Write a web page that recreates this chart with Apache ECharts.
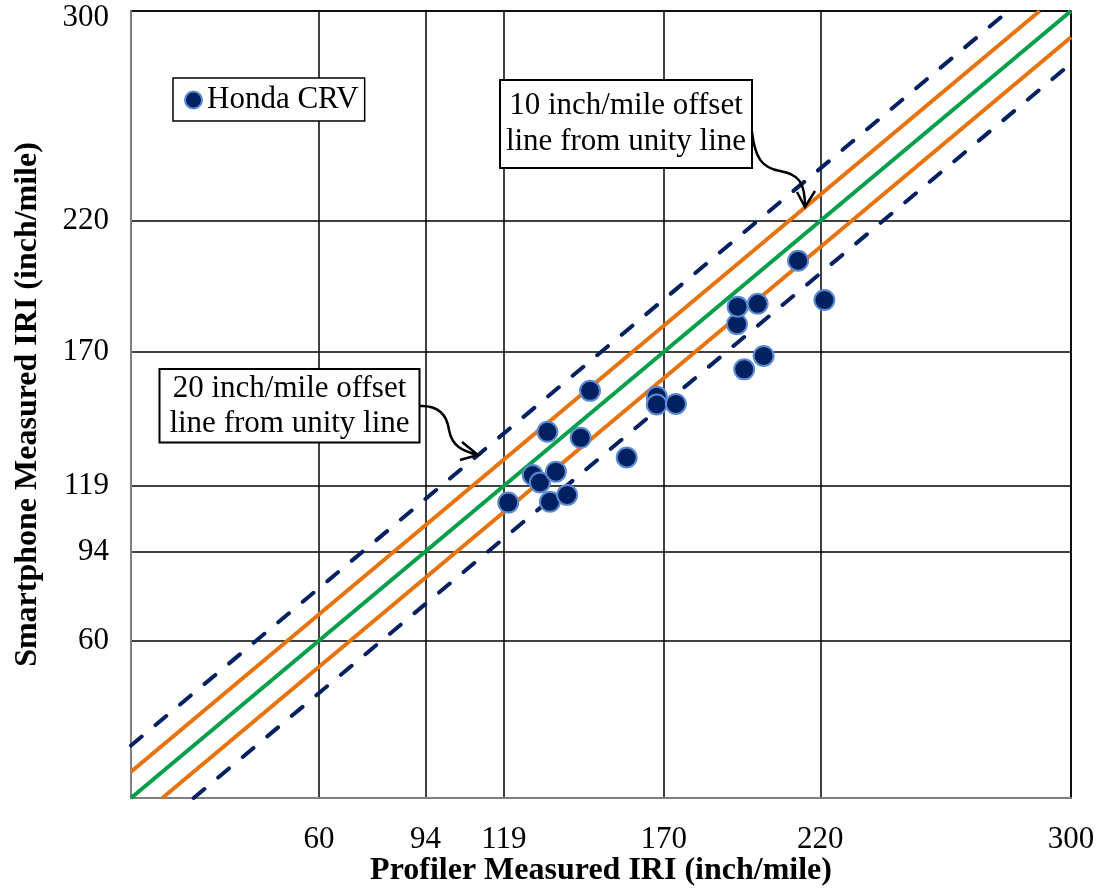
<!DOCTYPE html>
<html>
<head>
<meta charset="utf-8">
<title>Smartphone vs Profiler IRI</title>
<script src="https://cdn.jsdelivr.net/npm/echarts@6/dist/echarts.min.js"></script>
<style>
  html, body { margin: 0; padding: 0; background: #ffffff; }
  #chart { width: 1101px; height: 890px; }
</style>
</head>
<body>
<div id="chart"></div>
<script>
// Tick values shown on both axes (IRI thresholds)
const tickValues = [60, 94, 119, 170, 220, 300];

// Honda CRV runs: [profiler IRI, smartphone IRI]
const hondaCRV = [
  [120.4, 112.6], [128.2, 123.1], [130.5, 120.3], [132.9, 139.6],
  [133.7, 112.9], [135.6, 124.4], [139.2, 115.5], [143.5, 137.3],
  [146.5, 155.2], [158.2, 129.8], [167.8, 153.0], [167.8, 150.0],
  [173.9, 150.2], [193.4, 180.6], [193.6, 187.3], [195.7, 163.4],
  [200.0, 188.4], [201.9, 168.5], [212.9, 204.8], [221.3, 189.8]
];

// Reference lines (end points)
const unityLine = [[0, 0], [300, 300]];
const upper10 = [[0, 10], [290, 300]];
const lower10 = [[10, 0], [300, 290]];
const upper20 = [[0, 20], [280, 300]];
const lower20 = [[20, 0], [300, 280]];

const FONT = "'Liberation Serif', 'Times New Roman', serif";
const NAVY = '#002060';
const ORANGE = '#E8720C';
const GREEN = '#00A04A';

const chart = echarts.init(document.getElementById('chart'), null, { renderer: 'canvas' });

function refLine(data, color, dashed) {
  return {
    type: 'line',
    data: data,
    symbol: 'none',
    silent: true,
    z: 2,
    lineStyle: dashed
      ? { color: color, width: 4, type: [14, 18], cap: 'round' }
      : { color: color, width: 4 }
  };
}

function axisCommon(name, nameGap) {
  return {
    type: 'value',
    min: 0,
    max: 300,
    name: name,
    nameLocation: 'middle',
    nameGap: nameGap,
    nameMoveOverlap: false,
    nameTextStyle: { fontFamily: FONT, fontSize: 32, fontWeight: 'bold', color: '#000' },
    axisLine: { show: true, lineStyle: { color: '#7f7f7f', width: 2 } },
    axisTick: { show: false, customValues: tickValues },
    axisLabel: {
      customValues: tickValues,
      fontFamily: FONT, fontSize: 31, color: '#000'
    },
    splitLine: { show: true, lineStyle: { color: '#000', width: 1.5 } }
  };
}

const xAxis = axisCommon('Profiler Measured IRI (inch/mile)', 57);
xAxis.axisLabel.margin = 26;
const yAxis = axisCommon('Smartphone Measured IRI (inch/mile)', 87);
yAxis.axisLabel.margin = 22;
// keep the top label inside the canvas
yAxis.axisLabel.formatter = function (v) { return v === 300 ? '{top|' + v + '}' : String(v); };
yAxis.axisLabel.rich = { top: { fontFamily: FONT, fontSize: 31, color: '#000', padding: [14, 0, 0, 0] } };

chart.setOption({
  animation: false,
  backgroundColor: '#ffffff',
  grid: {
    left: 131, right: 30, top: 11, bottom: 92,
    show: true, borderColor: '#000', borderWidth: 1.5,
    containLabel: false,
    outerBoundsMode: 'none'
  },
  xAxis: xAxis,
  yAxis: yAxis,
  legend: {
    data: ['Honda CRV'],
    left: 173, top: 78,
    orient: 'vertical',
    backgroundColor: '#fff',
    borderColor: '#000', borderWidth: 1.5,
    padding: [5, 6, 4, 11],
    icon: 'circle',
    itemWidth: 17, itemHeight: 17,
    itemGap: 0,
    textStyle: { fontFamily: FONT, fontSize: 31, color: '#000', lineHeight: 34 }
  },
  series: [
    refLine(upper20, NAVY, true),
    refLine(lower20, NAVY, true),
    refLine(upper10, ORANGE, false),
    refLine(lower10, ORANGE, false),
    refLine(unityLine, GREEN, false),
    {
      name: 'Honda CRV',
      type: 'scatter',
      data: hondaCRV,
      symbol: 'circle',
      symbolSize: 20,
      z: 5,
      itemStyle: { color: NAVY, opacity: 1, borderColor: '#5B8BD0', borderWidth: 2 }
    }
  ],
  graphic: [
    // 10 inch/mile note
    { type: 'rect', shape: { x: 500, y: 80, width: 252, height: 88 },
      style: { fill: '#fff', stroke: '#000', lineWidth: 2 }, z: 10 },
    { type: 'text', x: 626, y: 124, z: 11,
      style: { text: '10 inch/mile offset\nline from unity line', font: '31px ' + FONT,
               fill: '#000', textAlign: 'center', textVerticalAlign: 'middle', lineHeight: 36 } },
    { type: 'bezierCurve', z: 11,
      shape: { x1: 752, y1: 132, cpx1: 755, cpy1: 158, cpx2: 762, cpy2: 168, x2: 780, y2: 171 },
      style: { stroke: '#000', lineWidth: 2.5, fill: null } },
    { type: 'bezierCurve', z: 11,
      shape: { x1: 780, y1: 171, cpx1: 798, cpy1: 174, cpx2: 805, cpy2: 182, x2: 805, y2: 206 },
      style: { stroke: '#000', lineWidth: 2.5, fill: null } },
    { type: 'polyline', z: 11,
      shape: { points: [[797, 192], [805, 207], [815, 191]] },
      style: { stroke: '#000', lineWidth: 2.5, fill: null } },

    // 20 inch/mile note
    { type: 'rect', shape: { x: 159.5, y: 369, width: 260, height: 73.5 },
      style: { fill: '#fff', stroke: '#000', lineWidth: 2 }, z: 10 },
    { type: 'text', x: 289.5, y: 406, z: 11,
      style: { text: '20 inch/mile offset\nline from unity line', font: '31px ' + FONT,
               fill: '#000', textAlign: 'center', textVerticalAlign: 'middle', lineHeight: 35 } },
    { type: 'bezierCurve', z: 11,
      shape: { x1: 419, y1: 406, cpx1: 438, cpy1: 405, cpx2: 447, cpy2: 415, x2: 449, y2: 430 },
      style: { stroke: '#000', lineWidth: 2.5, fill: null } },
    { type: 'bezierCurve', z: 11,
      shape: { x1: 449, y1: 430, cpx1: 452, cpy1: 446, cpx2: 462, cpy2: 451, x2: 478, y2: 455 },
      style: { stroke: '#000', lineWidth: 2.5, fill: null } },
    { type: 'polyline', z: 11,
      shape: { points: [[462, 442], [478, 455], [460, 460]] },
      style: { stroke: '#000', lineWidth: 2.5, fill: null } }
  ]
});
</script>
</body>
</html>
